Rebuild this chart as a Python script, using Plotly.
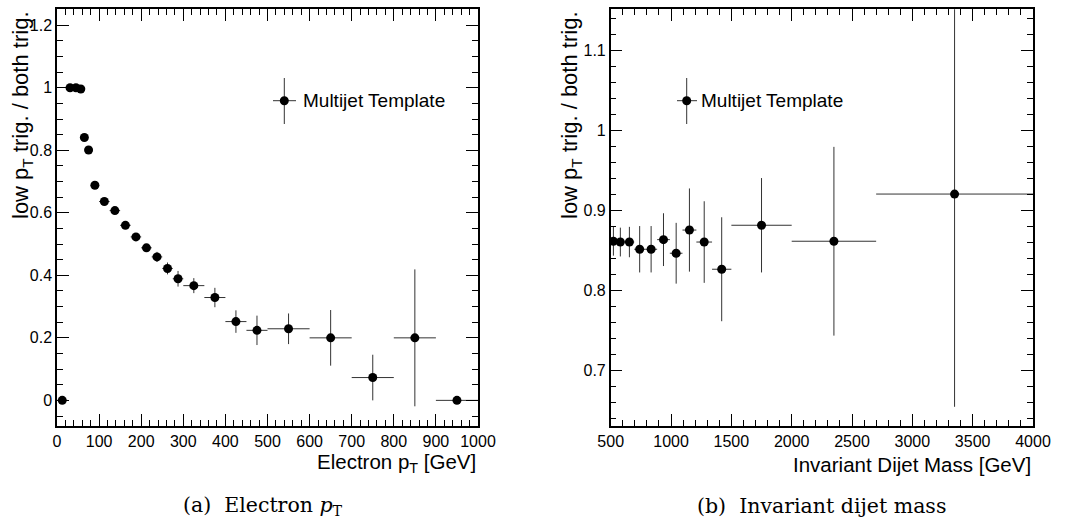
import plotly.graph_objects as go

# ---- Electron pT: ratio of low-pT-trigger to both-trigger multijet template ----
pt_center = [12.5, 31, 45, 56.5, 65, 75, 90, 112.5, 137.5, 162.5, 187.5, 212.5,
             237.5, 262.5, 287.5, 325, 375, 425, 475, 550, 650, 750, 850, 950]
pt_halfwidth = [12.5, 6, 8, 3.5, 5, 5, 10, 12.5, 12.5, 12.5, 12.5, 12.5,
                12.5, 12.5, 12.5, 25, 25, 25, 25, 50, 50, 50, 50, 50]
pt_ratio = [0.0, 1.0, 1.0, 0.996, 0.841, 0.801, 0.688, 0.636, 0.607, 0.560, 0.523, 0.488,
            0.459, 0.422, 0.389, 0.367, 0.329, 0.252, 0.224, 0.229, 0.200, 0.073, 0.200, 0.0]
pt_err = [0.0, 0.002, 0.002, 0.003, 0.006, 0.007, 0.008, 0.008, 0.009, 0.010, 0.011, 0.012,
          0.016, 0.019, 0.025, 0.024, 0.031, 0.036, 0.047, 0.049, 0.089, 0.073, 0.219, 0.0]

# ---- Invariant dijet mass ----
mjj_center = [522.5, 580, 655, 740, 835, 937.5, 1042.5, 1152.5, 1275, 1420, 1750, 2350, 3350]
mjj_halfwidth = [22.5, 35, 40, 45, 50, 52.5, 52.5, 57.5, 65, 80, 250, 350, 650]
mjj_ratio = [0.861, 0.860, 0.860, 0.851, 0.851, 0.863, 0.846, 0.875, 0.860, 0.826, 0.881, 0.861, 0.920]
mjj_err = [0.018, 0.018, 0.019, 0.029, 0.029, 0.033, 0.038, 0.052, 0.051, 0.065, 0.059, 0.118, 0.266]

legend_label = "Multijet Template"
ytitle = "low p<sub>T</sub> trig. / both trig."
xtitles = ["Electron p<sub>T</sub> [GeV]", "Invariant Dijet Mass [GeV]"]
captions = ["(a)&nbsp; Electron <i>p</i><sub>T</sub>", "(b)&nbsp; Invariant dijet mass"]

W, H = 1069, 521
SANS = "Liberation Sans, Arial, Helvetica, sans-serif"
SERIF = "DejaVu Serif, Liberation Serif, serif"


def px(x):
    return x / W


def py(y):
    return 1 - y / H


fig = go.Figure()

for xs, hw, ys, es, xa, ya in [
    (pt_center, pt_halfwidth, pt_ratio, pt_err, "x", "y"),
    (mjj_center, mjj_halfwidth, mjj_ratio, mjj_err, "x2", "y2"),
]:
    fig.add_trace(go.Scatter(
        x=xs, y=ys, mode="markers", xaxis=xa, yaxis=ya, showlegend=False,
        marker=dict(symbol="circle", size=9, color="black", line=dict(width=0)),
        error_x=dict(type="data", array=hw, visible=True, width=0, thickness=1, color="#333333"),
        error_y=dict(type="data", array=es, visible=True, width=0, thickness=1, color="#333333"),
    ))

frame = dict(showline=True, linecolor="black", linewidth=1.5, mirror="ticks",
             ticks="inside", ticklen=12, tickwidth=1, tickcolor="black",
             showgrid=False, zeroline=False, automargin=False,
             tickfont=dict(family=SANS, size=16, color="black"))

y_dom = [py(426), py(9.3)]
fig.update_layout(
    template="none",
    width=W, height=H, margin=dict(l=0, r=0, t=0, b=0, pad=0, autoexpand=False),
    paper_bgcolor="white", plot_bgcolor="white", showlegend=False,
    xaxis=dict(domain=[px(57), px(478)], range=[0, 1000], anchor="y",
               tick0=0, dtick=100, tickformat="d",
               minor=dict(dtick=20, ticklen=6, ticks="inside", tickcolor="black"), **frame),
    yaxis=dict(domain=y_dom, range=[-0.082, 1.251], anchor="x",
               tick0=0, dtick=0.2,
               minor=dict(dtick=0.05, ticklen=6, ticks="inside", tickcolor="black"), **frame),
    xaxis2=dict(domain=[px(610.7), px(1033)], range=[500, 4000], anchor="y2",
                tick0=500, dtick=500, tickformat="d",
                minor=dict(dtick=100, ticklen=6, ticks="inside", tickcolor="black"), **frame),
    yaxis2=dict(domain=y_dom, range=[0.63, 1.151], anchor="x2",
                tick0=0.7, dtick=0.1,
                minor=dict(dtick=0.02, ticklen=6, ticks="inside", tickcolor="black"), **frame),
)

ann = []
shapes = []

# axis titles (ROOT style: x title right-aligned, y title top-aligned)
for xr, xt, ytop in [(478, xtitles[0], 448), (1033, xtitles[1], 451)]:
    ann.append(dict(x=px(xr), y=py(ytop), xref="paper", yref="paper", text=xt,
                    xanchor="right", yanchor="top", showarrow=False,
                    font=dict(family=SANS, size=20.5, color="black")))
for xc in (22, 571):
    ann.append(dict(x=px(xc), y=py(9), xref="paper", yref="paper", text=ytitle,
                    textangle=-90, xanchor="center", yanchor="top", showarrow=False,
                    font=dict(family=SANS, size=22, color="black")))

# captions under each panel
for xc, cap in [(263, captions[0]), (821, captions[1])]:
    ann.append(dict(x=px(xc), y=py(506), xref="paper", yref="paper", text=cap,
                    xanchor="center", yanchor="middle", showarrow=False,
                    font=dict(family=SERIF, size=20.5, color="black")))

# legend entry drawn as a marker with error cross plus label
for mx, hl, hr, tx in [(284.3, 273, 296, 301), (686.7, 677, 697, 698.5)]:
    my = 100.7
    shapes.append(dict(type="line", xref="paper", yref="paper",
                       x0=px(mx), x1=px(mx), y0=py(78), y1=py(124),
                       line=dict(color="#333333", width=1)))
    shapes.append(dict(type="line", xref="paper", yref="paper",
                       x0=px(hl), x1=px(hr), y0=py(my), y1=py(my),
                       line=dict(color="#333333", width=1)))
    shapes.append(dict(type="circle", xref="paper", yref="paper",
                       x0=px(mx - 4.5), x1=px(mx + 4.5), y0=py(my + 4.5), y1=py(my - 4.5),
                       fillcolor="black", line=dict(width=0)))
    ann.append(dict(x=px(tx), y=py(my), xref="paper", yref="paper", text=legend_label,
                    xanchor="left", yanchor="middle", showarrow=False,
                    font=dict(family=SANS, size=19, color="black")))

fig.update_layout(annotations=ann, shapes=shapes)
fig.write_html("out.html")
